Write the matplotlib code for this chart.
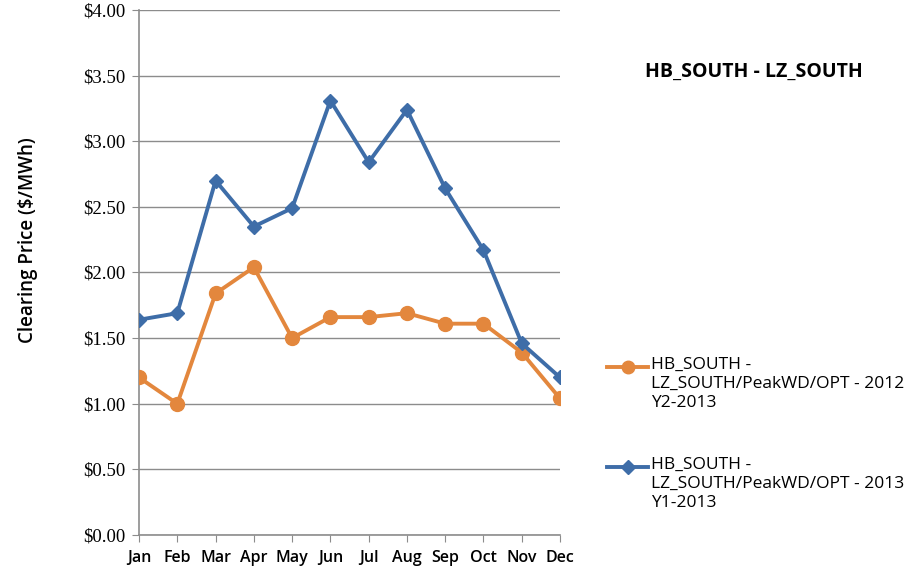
import matplotlib
matplotlib.use("Agg")
import matplotlib.pyplot as plt
from matplotlib.lines import Line2D
from matplotlib.ticker import FuncFormatter, MultipleLocator

# === DATA ===
months = ['Jan', 'Feb', 'Mar', 'Apr', 'May', 'Jun', 'Jul', 'Aug', 'Sep', 'Oct', 'Nov', 'Dec']
price_2012_y2 = [1.20, 1.00, 1.84, 2.04, 1.50, 1.66, 1.66, 1.69, 1.61, 1.61, 1.39, 1.04]
price_2013_y1 = [1.64, 1.69, 2.70, 2.35, 2.49, 3.31, 2.84, 3.24, 2.64, 2.17, 1.46, 1.20]
label_2012 = 'HB_SOUTH -\nLZ_SOUTH/PeakWD/OPT - 2012\nY2-2013'
label_2013 = 'HB_SOUTH -\nLZ_SOUTH/PeakWD/OPT - 2013\nY1-2013'
title = 'HB_SOUTH - LZ_SOUTH'

ORANGE = '#E3873D'
BLUE = '#3E6DA8'
GRID = '#8C8C8C'
SERIF = ['Liberation Serif', 'DejaVu Serif']

plt.rcParams['font.family'] = ['Open Sans', 'DejaVu Sans']

fig = plt.figure(figsize=(9.22, 5.77), dpi=100)
ax = fig.add_axes([0.1508, 0.0728, 0.4566, 0.9099])

x = list(range(len(months)))
ax.plot(x, price_2012_y2, color=ORANGE, lw=2.8, marker='o', ms=10, zorder=3)
ax.plot(x, price_2013_y1, color=BLUE, lw=2.8, marker='D', ms=7.5, zorder=4)

ax.set_xlim(0, len(months) - 1)
ax.set_ylim(0, 4)
ax.yaxis.set_major_locator(MultipleLocator(0.5))
ax.yaxis.set_major_formatter(FuncFormatter(lambda v, p: f'${v:.2f}'))
ax.set_xticks(x)
ax.set_xticklabels(months, fontsize=11.5, fontweight='semibold')
ax.tick_params(axis='y', labelsize=13.5, length=5, color=GRID, pad=5)
ax.tick_params(axis='x', length=5, color=GRID, pad=6)
ax.yaxis.grid(True, color=GRID, lw=1)
ax.set_axisbelow(True)
for s in ['top', 'right']:
    ax.spines[s].set_visible(False)
for s in ['left', 'bottom']:
    ax.spines[s].set_color(GRID)
    ax.spines[s].set_linewidth(1.2)
for lab in ax.get_xticklabels():
    lab.set_clip_on(False)
for lab in ax.get_yticklabels():
    lab.set_family(SERIF)

fig.text(0.03, 0.584, 'Clearing Price ($/MWh)', rotation=90, ha='center', va='center',
         fontsize=13.5, fontweight='semibold')
fig.text(0.818, 0.875, title, ha='center', va='center', fontsize=14, fontweight='bold')

# legend, drawn by hand so the handle sits on the first text line
W, H = 922, 577
for color, marker, ms, label, y0 in [(ORANGE, 'o', 9, label_2012, 367),
                                      (BLUE, 'D', 7, label_2013, 467)]:
    yf = 1 - y0 / H
    fig.add_artist(Line2D([607 / W, 648 / W], [yf, yf], color=color, lw=2.8,
                          transform=fig.transFigure))
    fig.add_artist(Line2D([627.5 / W], [yf], color=color, marker=marker, ms=ms,
                          transform=fig.transFigure))
    fig.text(651 / W, yf + 10 / H, label, ha='left', va='top', fontsize=12.5,
             linespacing=1.25)

fig.savefig('out.png', dpi=100)
